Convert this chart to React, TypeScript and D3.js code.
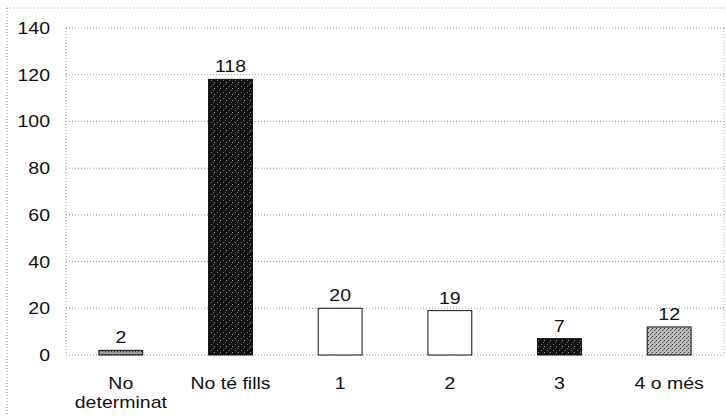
import React from "react";
import * as d3 from "d3";

const categories = ["No determinat", "No té fills", "1", "2", "3", "4 o més"];
const values = [2, 118, 20, 19, 7, 12];
const yTicks = [0, 20, 40, 60, 80, 100, 120, 140];
const fills = ["url(#hatchGrey)", "url(#noiseBlack)", "#ffffff", "#ffffff", "url(#noiseBlack)", "url(#noiseGrey)"];

const W = 726;
const H = 416;
const margin = { top: 28, right: 2, bottom: 61, left: 66 };

// scanned text looks stretched sideways
const SX = 1.22;

const Label: React.FC<{ x: number; y: number; anchor: string; children: React.ReactNode }> = ({
  x,
  y,
  anchor,
  children,
}) => (
  <text
    transform={`translate(${x},${y}) scale(${SX},1)`}
    textAnchor={anchor}
    fontSize={16}
    fill="#111"
  >
    {children}
  </text>
);

export default function App() {
  const x = d3
    .scaleBand<string>()
    .domain(categories)
    .range([margin.left, W - margin.right])
    .paddingInner(0.6)
    .paddingOuter(0.3);
  const y = d3.scaleLinear().domain([0, 140]).range([H - margin.bottom, margin.top]);

  const font = "'Liberation Sans', Arial, sans-serif";

  return (
    <svg
      width={W}
      height={H}
      style={{ position: "absolute", left: 0, top: 0, background: "#fff" }}
      fontFamily={font}
    >
      <defs>
        <pattern id="noiseBlack" width="6" height="6" patternUnits="userSpaceOnUse">
          <rect width="6" height="6" fill="#111" />
          <rect x="1" y="2" width="1" height="1" fill="#777" />
          <rect x="4" y="4" width="1" height="1" fill="#999" />
          <rect x="3" y="0" width="1" height="1" fill="#666" />
        </pattern>
        <pattern id="noiseGrey" width="4" height="4" patternUnits="userSpaceOnUse">
          <rect width="4" height="4" fill="#bbb" />
          <rect x="0" y="0" width="1" height="1" fill="#444" />
          <rect x="2" y="2" width="1" height="1" fill="#555" />
          <rect x="3" y="1" width="1" height="1" fill="#777" />
        </pattern>
        <pattern id="hatchGrey" width="3" height="3" patternUnits="userSpaceOnUse">
          <rect width="3" height="3" fill="#999" />
          <rect x="0" y="0" width="1" height="1" fill="#333" />
        </pattern>
      </defs>

      {/* outer frame, dotted */}
      <line x1={7} x2={W} y1={8} y2={8} stroke="#aaa" strokeDasharray="1,2" />
      <line x1={7} x2={7} y1={8} y2={H} stroke="#888" strokeDasharray="1,2" />

      {/* gridlines */}
      {yTicks.map((t) => (
        <g key={t}>
          <line
            x1={margin.left}
            x2={W - margin.right}
            y1={y(t)}
            y2={y(t)}
            stroke="#999"
            strokeDasharray="1,2"
          />
          <Label x={50} y={y(t) + 6} anchor="end">
            {t}
          </Label>
        </g>
      ))}
      <line
        x1={margin.left}
        x2={margin.left}
        y1={margin.top}
        y2={y(0)}
        stroke="#999"
        strokeDasharray="1,2"
      />
      <line
        x1={W - margin.right}
        x2={W - margin.right}
        y1={margin.top}
        y2={y(0)}
        stroke="#aaa"
        strokeDasharray="1,2"
      />

      {/* bars */}
      {categories.map((c, i) => (
        <g key={c}>
          <rect
            x={x(c)!}
            y={y(values[i])}
            width={x.bandwidth()}
            height={y(0) - y(values[i])}
            fill={fills[i]}
            stroke="#111"
            strokeWidth={1}
          />
          <Label x={x(c)! + x.bandwidth() / 2} y={y(values[i]) - 7} anchor="middle">
            {values[i]}
          </Label>
        </g>
      ))}

      {/* category labels */}
      {categories.map((c) => {
        const lines = c === "No determinat" ? ["No", "determinat"] : [c];
        const cx = x(c)! + x.bandwidth() / 2;
        return (
          <g key={c}>
            {lines.map((l, j) => (
              <Label key={l} x={cx} y={y(0) + 34 + j * 19} anchor="middle">
                {l}
              </Label>
            ))}
          </g>
        );
      })}
    </svg>
  );
}
